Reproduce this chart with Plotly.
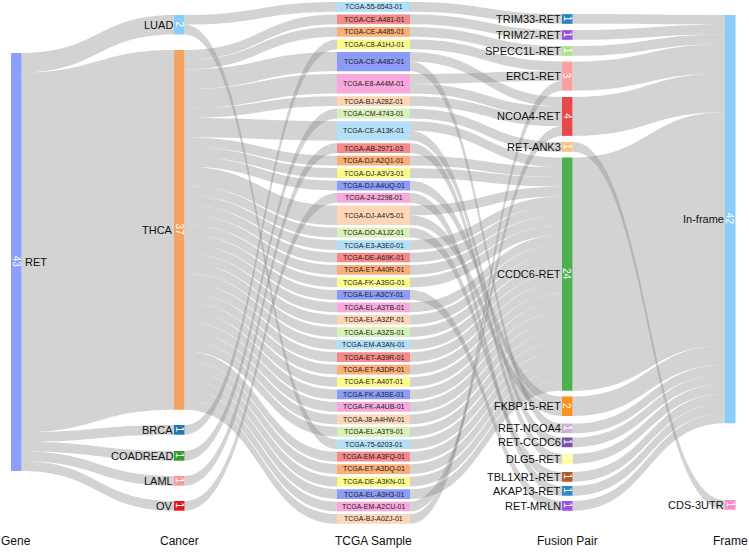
import plotly.graph_objects as go

# ---------------- data ----------------
gene = "RET"
cancers = ["LUAD", "THCA", "BRCA", "COADREAD", "LAML", "OV"]
samples = [
    "TCGA-55-6543-01", "TCGA-CE-A481-01", "TCGA-CE-A485-01", "TCGA-C8-A1HJ-01",
    "TCGA-CE-A482-01", "TCGA-E8-A44M-01", "TCGA-BJ-A28Z-01", "TCGA-CM-4743-01",
    "TCGA-CE-A13K-01", "TCGA-AB-2971-03", "TCGA-DJ-A2Q1-01", "TCGA-DJ-A3V3-01",
    "TCGA-DJ-A4UQ-01", "TCGA-24-2298-01", "TCGA-DJ-A4V5-01", "TCGA-DO-A1JZ-01",
    "TCGA-E3-A3E0-01", "TCGA-DE-A69K-01", "TCGA-ET-A40R-01", "TCGA-FK-A3SG-01",
    "TCGA-EL-A3CY-01", "TCGA-EL-A3TB-01", "TCGA-EL-A3ZP-01", "TCGA-EL-A3ZS-01",
    "TCGA-EM-A3AN-01", "TCGA-ET-A39R-01", "TCGA-ET-A3DR-01", "TCGA-ET-A40T-01",
    "TCGA-FK-A3SE-01", "TCGA-FK-A4UB-01", "TCGA-J8-A4HW-01", "TCGA-EL-A3T9-01",
    "TCGA-75-6203-01", "TCGA-EM-A3FQ-01", "TCGA-ET-A3DQ-01", "TCGA-DE-A3KN-01",
    "TCGA-EL-A3H3-01", "TCGA-EM-A2CU-01", "TCGA-BJ-A0ZJ-01",
]
sample_cancer = (
    ["LUAD", "THCA", "THCA", "BRCA", "THCA", "THCA", "THCA", "COADREAD",
     "THCA", "LAML", "THCA", "THCA", "THCA", "OV", "THCA"]
    + ["THCA"] * 17 + ["LUAD"] + ["THCA"] * 6
)
sample_fusions = [
    ["TRIM33-RET"], ["TRIM27-RET"], ["SPECC1L-RET"], ["ERC1-RET"],
    ["NCOA4-RET", "RET-NCOA4"], ["ERC1-RET", "NCOA4-RET"], ["NCOA4-RET"], ["RET-ANK3"],
    ["CCDC6-RET", "RET-CCDC6"], ["DLG5-RET"], ["CCDC6-RET"], ["CCDC6-RET"],
    ["FKBP15-RET"], ["AKAP13-RET"], ["CCDC6-RET", "FKBP15-RET"], ["TBL1XR1-RET"],
    ["CCDC6-RET"], ["CCDC6-RET"], ["CCDC6-RET"], ["CCDC6-RET"],
    ["RET-MRLN"],
] + [["CCDC6-RET"]] * 16 + [["NCOA4-RET"], ["ERC1-RET"]]
fusions = ["TRIM33-RET", "TRIM27-RET", "SPECC1L-RET", "ERC1-RET", "NCOA4-RET", "RET-ANK3",
           "CCDC6-RET", "FKBP15-RET", "RET-NCOA4", "RET-CCDC6", "DLG5-RET", "TBL1XR1-RET",
           "AKAP13-RET", "RET-MRLN"]
fusion_frame = ["In-frame", "In-frame", "In-frame", "In-frame", "In-frame", "CDS-3UTR",
                "In-frame", "In-frame", "In-frame", "In-frame", "In-frame", "In-frame",
                "In-frame", "In-frame"]
frames = ["In-frame", "CDS-3UTR"]
column_titles = ["Gene", "Cancer", "TCGA Sample", "Fusion Pair", "Frame"]

# ---------------- styles / layout ----------------
gene_color = "#8C9EFF"
cancer_colors = ["#87CEFA", "#F4A460", "#1F78B4", "#33A02C", "#FB9A99", "#E31A1C"]
sample_palette = ["#B3E0F7", "#F48A8A", "#FAAF78", "#FDFA8C", "#8C9BF5", "#F7A8DC",
                  "#FDD6B8", "#D9F1B8"]
fusion_colors = ["#2F80C2", "#9B4FE0", "#B2DF8A", "#FBA0A0", "#E8474C", "#FDC27A",
                 "#4CAF50", "#F7931E", "#CAB2D6", "#7B52AB", "#FFFF99", "#B15928",
                 "#2F86C5", "#A050E0"]
frame_colors = ["#87CEFA", "#FF8AD0"]
link_color = "rgba(128,128,128,0.35)"
font_family = "Liberation Sans, Arial, sans-serif"

W, H = 749, 552
ky = 9.72
col_left = [11, 174, 337, 562, 725]
col_width = [10.5, 10.5, 73, 10.5, 10.5]
gene_top = 53
sample_top0, sample_gap = 2.1, 2.73
cancer_top = {"LUAD": 15, "THCA": 50, "BRCA": 425, "COADREAD": 451, "LAML": 476, "OV": 501}
fusion_top = {"TRIM33-RET": 14.1, "TRIM27-RET": 30.1, "SPECC1L-RET": 46.1, "ERC1-RET": 61.5,
              "NCOA4-RET": 97, "RET-ANK3": 142.1, "CCDC6-RET": 157.5, "FKBP15-RET": 396.5,
              "RET-NCOA4": 423.5, "RET-CCDC6": 437.5, "DLG5-RET": 454, "TBL1XR1-RET": 472,
              "AKAP13-RET": 486, "RET-MRLN": 501}
frame_top = {"In-frame": 15, "CDS-3UTR": 500}
title_y = 541

# ---------------- build graph ----------------
links = {}


def add_link(s, t, v):
    links[(s, t)] = links.get((s, t), 0) + v


sample_val = [len(f) for f in sample_fusions]
cancer_val = {c: 0 for c in cancers}
for s, c, v in zip(samples, sample_cancer, sample_val):
    cancer_val[c] += v
fusion_val = {f: 0 for f in fusions}
for s, fl in zip(samples, sample_fusions):
    for f in fl:
        fusion_val[f] += 1
        add_link((2, s), (3, f), 1)
frame_val = {fr: 0 for fr in frames}
for f, fr in zip(fusions, fusion_frame):
    frame_val[fr] += fusion_val[f]
    add_link((3, f), (4, fr), fusion_val[f])
for s, c, v in zip(samples, sample_cancer, sample_val):
    add_link((1, c), (2, s), v)
for c in cancers:
    add_link((0, gene), (1, c), cancer_val[c])

nodes = {}  # key -> dict(top, value, color)
nodes[(0, gene)] = dict(top=gene_top, value=sum(cancer_val.values()), color=gene_color)
for c, col in zip(cancers, cancer_colors):
    nodes[(1, c)] = dict(top=cancer_top[c], value=cancer_val[c], color=col)
y = sample_top0
for i, (s, v) in enumerate(zip(samples, sample_val)):
    nodes[(2, s)] = dict(top=y, value=v, color=sample_palette[i % len(sample_palette)])
    y += v * ky + sample_gap
for f, col in zip(fusions, fusion_colors):
    nodes[(3, f)] = dict(top=fusion_top[f], value=fusion_val[f], color=col)
for fr, col in zip(frames, frame_colors):
    nodes[(4, fr)] = dict(top=frame_top[fr], value=frame_val[fr], color=col)

# link offsets: outgoing sorted by target top, incoming sorted by source top
out_off, in_off = {}, {}
for k in nodes:
    outs = sorted([l for l in links if l[0] == k], key=lambda l: nodes[l[1]]["top"])
    y0 = nodes[k]["top"]
    for l in outs:
        out_off[l] = y0
        y0 += links[l] * ky
    ins = sorted([l for l in links if l[1] == k], key=lambda l: nodes[l[0]]["top"])
    y0 = nodes[k]["top"]
    for l in ins:
        in_off[l] = y0
        y0 += links[l] * ky

shapes = []
for l, v in links.items():
    s, t = l
    xs = col_left[s[0]] + col_width[s[0]]
    xt = col_left[t[0]]
    cx = (xs + xt) / 2
    ys, yt = out_off[l], in_off[l]
    h = v * ky
    path = (f"M {xs:.2f},{ys:.2f} C {cx:.2f},{ys:.2f} {cx:.2f},{yt:.2f} {xt:.2f},{yt:.2f} "
            f"L {xt:.2f},{yt + h:.2f} C {cx:.2f},{yt + h:.2f} {cx:.2f},{ys + h:.2f} {xs:.2f},{ys + h:.2f} Z")
    shapes.append(dict(type="path", path=path, xref="x", yref="y", fillcolor=link_color,
                       line=dict(width=0), layer="above"))

annotations = []
for k, n in nodes.items():
    col, name = k
    x0 = col_left[col]
    x1 = x0 + col_width[col]
    top = n["top"]
    bot = top + n["value"] * ky
    yc = (top + bot) / 2
    shapes.append(dict(type="rect", xref="x", yref="y", x0=x0, x1=x1, y0=top, y1=bot,
                       fillcolor=n["color"], line=dict(width=0), layer="above"))
    if col == 2:
        annotations.append(dict(x=(x0 + x1) / 2, y=yc, text=name, showarrow=False,
                                xanchor="center", yanchor="middle",
                                font=dict(size=7, color="#222", family=font_family)))
    else:
        annotations.append(dict(x=(x0 + x1) / 2, y=yc, text=str(n["value"]), showarrow=False,
                                xanchor="center", yanchor="middle", textangle=90,
                                font=dict(size=10, color="white", family=font_family)))
        if col == 0:
            annotations.append(dict(x=x1 + 1, y=yc, text=name, showarrow=False,
                                    xanchor="left", yanchor="middle",
                                    font=dict(size=11, color="#111", family=font_family)))
        else:
            annotations.append(dict(x=x0 + 1, y=yc, text=name, showarrow=False,
                                    xanchor="right", yanchor="middle",
                                    font=dict(size=11, color="#111", family=font_family)))

for i, t in enumerate(column_titles):
    xc = col_left[i] + col_width[i] / 2
    annotations.append(dict(x=max(xc, 13), y=title_y, text=t, showarrow=False,
                            xanchor="center", yanchor="middle",
                            font=dict(size=12, color="#111", family=font_family)))

fig = go.Figure()
fig.add_trace(go.Scatter(x=[0, W], y=[0, H], mode="markers", marker=dict(opacity=0),
                         hoverinfo="skip", showlegend=False))
fig.update_layout(
    width=W, height=H, margin=dict(l=0, r=0, t=0, b=0),
    paper_bgcolor="white", plot_bgcolor="white",
    xaxis=dict(range=[0, W], visible=False, fixedrange=True),
    yaxis=dict(range=[H, 0], visible=False, fixedrange=True),
    shapes=shapes, annotations=annotations, showlegend=False,
)
fig.write_html("out.html", config={"displayModeBar": False},
               post_script="document.body.style.margin='0px';document.body.style.overflow='hidden';")
